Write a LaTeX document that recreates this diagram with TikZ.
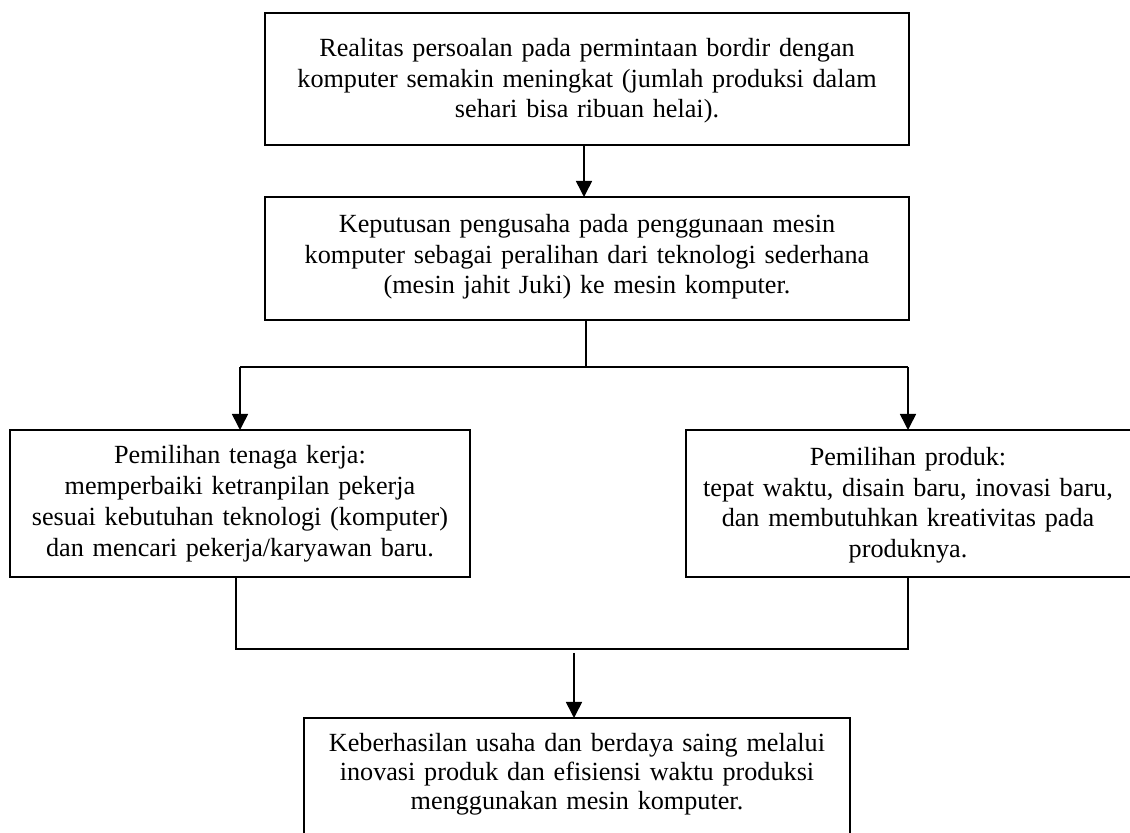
\documentclass[tikz,border=0pt]{standalone}
\usepackage{fontspec}
\setmainfont{Liberation Serif}
\usetikzlibrary{arrows.meta}
\begin{document}
\begin{tikzpicture}[x=0.5pt,y=-0.5pt,
  box/.style={draw,line width=0.8pt,inner sep=0pt},
  txt/.style={anchor=base,align=center,text width=340pt,inner sep=0pt,
    font=\fontsize{13.1}{15.2}\selectfont},
  conn/.style={line width=0.8pt},
  arr/.style={line width=0.8pt,-{Triangle[length=8pt,width=8pt]}}]
\useasboundingbox (0,0) rectangle (1130,833);
% boxes
\draw[box] (265,13) rectangle (909,145);
\coordinate (b1s) at (584,145);
\coordinate (b2n) at (584,197);
\draw[box] (265,197) rectangle (909,320);
\draw[box] (10,430) rectangle (470,577);
\draw[box] (686,430) rectangle (1131,577);
\draw[box] (304,718) rectangle (850,850);
% texts
\node[txt] (t1) at (587,57) {Realitas persoalan pada permintaan bordir dengan\\komputer semakin meningkat (jumlah produksi dalam\\sehari bisa ribuan helai).};
\node[txt] (t2) at (587,233) {Keputusan pengusaha pada penggunaan mesin\\komputer sebagai peralihan dari teknologi sederhana\\(mesin jahit Juki) ke mesin komputer.};
\node[txt,font=\fontsize{13.1}{15.5}\selectfont] (t3) at (240,464) {Pemilihan tenaga kerja:\\memperbaiki ketranpilan pekerja\\sesuai kebutuhan teknologi (komputer)\\dan mencari pekerja/karyawan baru.};
\node[txt] (t4) at (908,466) {Pemilihan produk:\\tepat waktu, disain baru, inovasi baru,\\dan membutuhkan kreativitas pada\\produknya.};
\node[txt,font=\fontsize{13.1}{14.5}\selectfont] (t5) at (577,751) {Keberhasilan usaha dan berdaya saing melalui\\inovasi produk dan efisiensi waktu produksi\\menggunakan mesin komputer.};
% connectors
\coordinate (b2s) at (586,320);
\coordinate (split) at (586,367);
\coordinate (sl) at (240,367);
\coordinate (sr) at (908,367);
\coordinate (b3n) at (240,430);
\coordinate (b4n) at (908,430);
\coordinate (b3s) at (236,577);
\coordinate (b4s) at (908,577);
\coordinate (jl) at (236,649);
\coordinate (jr) at (908,649);
\coordinate (a5) at (574,653);
\coordinate (b5n) at (574,718);
\draw[arr] (b1s) -- (b2n);
\draw[conn] (b2s) -- (split);
\draw[conn] (sl) -- (sr);
\draw[arr] (sl) -- (b3n);
\draw[arr] (sr) -- (b4n);
\draw[conn] (b3s) -- (jl) -- (jr) -- (b4s);
\draw[arr] (a5) -- (b5n);
\end{tikzpicture}
\end{document}
